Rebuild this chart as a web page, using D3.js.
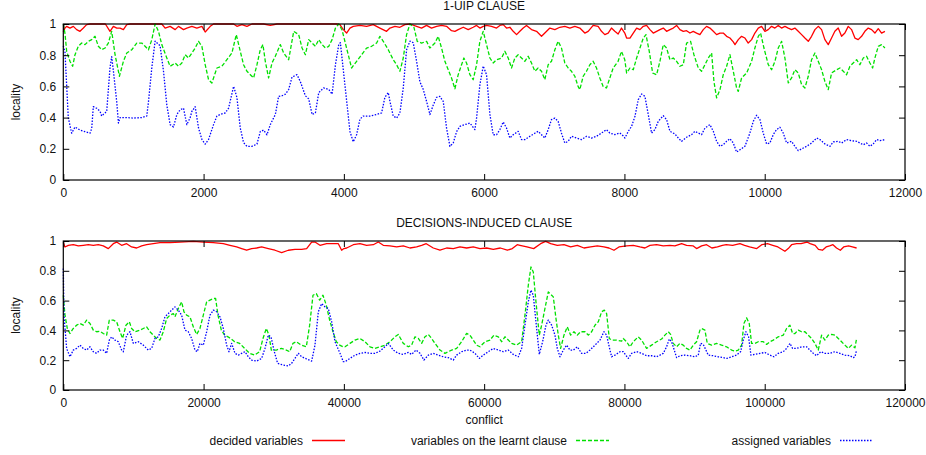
<!DOCTYPE html>
<html>
<head>
<meta charset="utf-8">
<script src="https://cdn.jsdelivr.net/npm/d3@7"></script>
<style>
  html, body { margin: 0; padding: 0; background: #fff; }
  svg { display: block; font-family: "Liberation Sans", Arial, Helvetica, sans-serif; }
</style>
</head>
<body>
<svg id="chart" width="926" height="455"></svg>
<script>
// ---- 1-UIP clause: [conflict, locality] ----
const uipDecided = [[0,.95],[24,.974],[48,.985],[95,.974],[143,.985],[190,.964],[238,.953],[286,.974],[333,.996],[381,1],[600,1],[666,.953],[714,.985],[762,.974],[809,.974],[857,.964],[905,.996],[952,1],[1404,1],[1452,.974],[1523,.985],[1595,.964],[1642,.985],[1714,.964],[1761,.974],[1833,.985],[1904,.974],[1976,.985],[2023,.949],[2095,.985],[2142,1],[2428,1],[2475,.985],[2547,.996],[2618,.985],[2690,1],[2856,1],[2951,.991],[3047,1],[3900,1],[3944,.996],[3992,.964],[4039,.942],[4087,.974],[4134,.985],[4229,.991],[4324,.985],[4419,.996],[4514,.974],[4609,.953],[4657,.974],[4728,.985],[4799,.979],[4870,.996],[4942,1],[5037,.985],[5108,.974],[5179,.991],[5250,.974],[5322,.985],[5393,.991],[5464,.985],[5535,.957],[5583,.953],[5630,.964],[5702,.979],[5773,.964],[5844,.979],[5892,.991],[5939,.974],[5987,.985],[6034,.991],[6105,.985],[6177,.974],[6224,.991],[6272,.996],[6319,.974],[6367,.979],[6414,.953],[6462,.932],[6509,.953],[6557,.974],[6604,.991],[6675,.964],[6747,.953],[6818,.921],[6865,.942],[6937,.974],[7008,.964],[7079,.979],[7150,.985],[7222,.974],[7293,.985],[7364,.974],[7435,.942],[7483,.953],[7554,.991],[7625,.985],[7673,.953],[7720,.932],[7768,.942],[7815,.974],[7863,.953],[7910,.936],[7958,.974],[8005,.942],[8031,.91],[8079,.91],[8126,.942],[8174,.974],[8221,.964],[8269,.985],[8316,.991],[8364,.964],[8411,.942],[8459,.953],[8506,.964],[8554,.974],[8601,.953],[8649,.964],[8696,.974],[8744,.991],[8791,.964],[8839,.953],[8886,.957],[8934,.942],[8981,.953],[9029,.942],[9076,.932],[9124,.964],[9171,.985],[9219,.974],[9267,.953],[9314,.932],[9362,.942],[9409,.942],[9457,.921],[9504,.91],[9552,.885],[9576,.868],[9623,.9],[9670,.921],[9718,.91],[9765,.878],[9813,.9],[9860,.942],[9908,.974],[9955,.985],[10003,.953],[10050,.964],[10098,.985],[10145,.974],[10193,.991],[10240,.974],[10288,.985],[10335,.974],[10383,.964],[10430,.974],[10478,.953],[10526,.932],[10573,.91],[10621,.889],[10668,.921],[10716,.964],[10763,.985],[10811,.964],[10858,.9],[10906,.868],[10953,.91],[11000,.953],[11048,.974],[11096,.921],[11143,.942],[11191,.985],[11238,.964],[11286,.91],[11333,.9],[11381,.921],[11428,.953],[11476,.974],[11524,.964],[11571,.942],[11619,.97],[11666,.942],[11714,.953]];

const uipLearnt = [[0,1],[24,.94],[48,.825],[95,.761],[133,.729],[167,.803],[214,.857],[262,.878],[309,.868],[357,.889],[405,.9],[452,.921],[500,.857],[547,.835],[595,.846],[642,.878],[690,.953],[738,.803],[800,.665],[857,.761],[905,.814],[976,.835],[1047,.878],[1119,.878],[1166,.857],[1214,.835],[1262,.9],[1309,1],[1357,.953],[1404,.868],[1476,.782],[1523,.729],[1595,.75],[1642,.729],[1690,.75],[1738,.803],[1785,.782],[1833,.814],[1880,.846],[1928,.889],[1976,.857],[2023,.739],[2071,.643],[2118,.622],[2190,.718],[2261,.729],[2332,.771],[2404,.814],[2466,.932],[2523,.825],[2570,.739],[2618,.697],[2666,.675],[2713,.654],[2761,.739],[2808,.835],[2846,.868],[2880,.761],[2927,.654],[2975,.75],[3023,.793],[3094,.868],[3142,.814],[3213,.771],[3285,.953],[3356,.932],[3404,.846],[3451,.803],[3499,.9],[3547,.878],[3594,.857],[3642,.9],[3690,.868],[3737,.846],[3785,.857],[3832,.9],[3880,.974],[3928,1],[3975,.96],[4110,.718],[4182,.761],[4253,.803],[4324,.846],[4395,.857],[4467,.878],[4514,.921],[4562,.889],[4633,.835],[4704,.771],[4752,.739],[4799,.697],[4847,.782],[4894,.932],[4942,1],[4999,.979],[5046,.889],[5108,.878],[5179,.889],[5226,.846],[5298,.878],[5345,.921],[5393,.846],[5440,.761],[5488,.707],[5535,.654],[5583,.585],[5630,.675],[5678,.739],[5711,.782],[5749,.75],[5797,.675],[5844,.643],[5892,.739],[5939,.889],[5987,.953],[6034,.868],[6082,.782],[6129,.75],[6177,.771],[6248,.782],[6295,.825],[6343,.782],[6390,.718],[6438,.782],[6485,.803],[6533,.782],[6580,.761],[6628,.793],[6675,.75],[6723,.697],[6770,.718],[6818,.697],[6865,.643],[6913,.739],[6960,.761],[7008,.835],[7055,.889],[7103,.846],[7150,.75],[7198,.718],[7245,.697],[7293,.665],[7339,.6],[7364,.579],[7412,.665],[7459,.697],[7507,.739],[7554,.761],[7602,.718],[7649,.654],[7697,.6],[7744,.59],[7792,.654],[7839,.718],[7910,.761],[7958,.825],[8005,.771],[8031,.686],[8079,.718],[8126,.707],[8174,.782],[8221,.846],[8269,.91],[8307,.932],[8354,.825],[8402,.686],[8459,.675],[8506,.761],[8554,.868],[8601,.846],[8649,.771],[8696,.782],[8744,.761],[8791,.729],[8839,.739],[8886,.878],[8943,.889],[8991,.803],[9053,.718],[9100,.697],[9148,.739],[9195,.782],[9243,.814],[9276,.632],[9314,.526],[9362,.579],[9409,.675],[9457,.729],[9504,.803],[9552,.697],[9599,.59],[9623,.568],[9670,.654],[9742,.686],[9813,.761],[9860,.846],[9908,.921],[9941,.942],[9989,.846],[10051,.739],[10098,.707],[10146,.761],[10193,.846],[10241,.889],[10288,.782],[10336,.622],[10383,.654],[10430,.707],[10478,.686],[10526,.611],[10573,.59],[10621,.665],[10668,.771],[10716,.814],[10763,.761],[10811,.707],[10858,.632],[10906,.579],[10953,.686],[11025,.707],[11072,.718],[11120,.697],[11167,.675],[11215,.729],[11262,.75],[11310,.771],[11357,.739],[11405,.782],[11452,.793],[11500,.75],[11538,.718],[11571,.782],[11619,.857],[11666,.868],[11714,.846]];

const uipAssigned = [[0,.86],[24,.82],[71,.4],[119,.3],[167,.34],[238,.32],[309,.31],[381,.3],[405,.33],[428,.47],[476,.46],[524,.44],[547,.41],[595,.43],[619,.44],[666,.72],[690,.79],[714,.7],[762,.5],[786,.365],[809,.4],[905,.4],[1000,.397],[1119,.4],[1190,.41],[1214,.5],[1262,.72],[1309,.89],[1380,.86],[1428,.7],[1476,.48],[1523,.355],[1571,.34],[1619,.42],[1666,.45],[1714,.46],[1761,.355],[1809,.4],[1833,.44],[1880,.47],[1928,.333],[1976,.26],[2023,.23],[2071,.26],[2142,.355],[2190,.41],[2237,.42],[2309,.43],[2356,.46],[2428,.6],[2475,.53],[2523,.333],[2570,.24],[2618,.216],[2689,.216],[2761,.23],[2808,.31],[2856,.32],[2904,.29],[2951,.355],[3023,.42],[3070,.536],[3118,.54],[3166,.55],[3213,.58],[3261,.66],[3332,.675],[3380,.63],[3451,.54],[3499,.52],[3547,.42],[3594,.43],[3642,.56],[3713,.59],[3785,.58],[3832,.55],[3880,.74],[3928,.87],[3950,.88],[4015,.61],[4087,.31],[4134,.245],[4182,.29],[4229,.39],[4277,.41],[4372,.41],[4467,.42],[4538,.43],[4585,.53],[4633,.56],[4657,.504],[4704,.41],[4752,.397],[4799,.43],[4847,.59],[4894,.835],[4942,.89],[4989,.88],[5037,.76],[5084,.63],[5132,.58],[5179,.504],[5227,.42],[5274,.48],[5322,.53],[5369,.536],[5417,.504],[5464,.333],[5512,.216],[5559,.237],[5607,.31],[5654,.344],[5725,.355],[5797,.365],[5868,.323],[5892,.397],[5939,.61],[5987,.73],[6034,.675],[6082,.42],[6129,.29],[6177,.29],[6224,.323],[6272,.372],[6319,.333],[6367,.269],[6414,.29],[6485,.312],[6533,.259],[6580,.259],[6652,.28],[6723,.3],[6770,.312],[6818,.29],[6865,.269],[6913,.323],[6960,.387],[7008,.397],[7055,.376],[7103,.3],[7150,.237],[7198,.248],[7245,.28],[7316,.269],[7388,.259],[7459,.28],[7530,.269],[7601,.28],[7673,.301],[7744,.323],[7791,.301],[7863,.291],[7934,.301],[7990,.28],[8007,.269],[8055,.312],[8102,.344],[8150,.408],[8197,.515],[8245,.551],[8292,.536],[8340,.419],[8387,.301],[8435,.323],[8482,.376],[8554,.412],[8601,.387],[8649,.312],[8720,.295],[8768,.269],[8815,.248],[8886,.274],[8958,.291],[9005,.312],[9053,.301],[9100,.291],[9148,.333],[9219,.355],[9267,.312],[9314,.248],[9362,.216],[9409,.226],[9457,.248],[9504,.265],[9552,.237],[9599,.179],[9647,.194],[9718,.216],[9789,.301],[9837,.376],[9884,.415],[9932,.387],[9979,.301],[10027,.231],[10074,.237],[10122,.291],[10169,.323],[10217,.338],[10264,.301],[10312,.237],[10383,.248],[10430,.216],[10478,.188],[10550,.205],[10597,.216],[10668,.237],[10740,.269],[10787,.259],[10858,.231],[10930,.216],[10977,.244],[11048,.248],[11096,.237],[11167,.259],[11238,.252],[11310,.248],[11357,.237],[11405,.226],[11452,.237],[11500,.216],[11547,.231],[11595,.259],[11642,.252],[11714,.259]];

// ---- Decisions-induced clause: [conflict, locality] ----
const decDecided = [[0,.99],[238,.96],[713,.971],[1426,.975],[2138,.967],[2851,.971],[3564,.975],[4277,.971],[4990,.975],[5702,.967],[6415,.949],[7128,.982],[7603,.993],[8316,.971],[9029,.982],[9742,.96],[10455,.953],[11167,.967],[11880,.975],[12831,.982],[13782,.989],[15208,.989],[16634,.993],[18535,.998],[19961,.993],[21387,.989],[22812,.982],[23763,.971],[24713,.96],[25427,.949],[26139,.938],[26852,.949],[27565,.953],[28278,.96],[29229,.949],[30179,.938],[31130,.922],[32080,.938],[33031,.944],[33981,.944],[34694,.949],[35407,.993],[35882,.993],[36595,.971],[37546,.982],[38496,.982],[39209,.982],[39684,.938],[40000,.949],[40394,.953],[41345,.975],[42295,.982],[43245,.971],[44196,.975],[44908,.993],[45621,.971],[46572,.967],[47522,.96],[48473,.967],[49423,.953],[50374,.96],[51087,.971],[51746,.982],[52750,.953],[53701,.938],[54651,.953],[55601,.949],[56552,.96],[57502,.953],[58453,.96],[59403,.949],[60354,.953],[61304,.944],[62303,.953],[63301,.938],[64016,.949],[64717,.975],[65105,.971],[66100,.96],[67060,.949],[68049,.982],[68769,.998],[69482,.982],[70429,.971],[71382,.975],[72332,.96],[73283,.971],[74233,.953],[75184,.96],[76134,.967],[77084,.96],[77797,.953],[78508,.938],[79220,.96],[80309,.967],[81259,.971],[82210,.96],[82922,.953],[83635,.971],[84585,.975],[85536,.967],[86486,.971],[87198,.967],[88149,.982],[88862,.971],[89812,.967],[90288,.949],[91001,.967],[91714,.975],[92468,.953],[93258,.96],[93969,.971],[94516,.975],[95429,.971],[96470,.982],[97128,.971],[97846,.96],[98862,.949],[99574,.975],[100400,.982],[101148,.971],[101879,.96],[102880,.931],[103354,.949],[103831,.975],[104544,.982],[105185,.982],[106019,.993],[106477,.982],[107190,.971],[107663,.944],[108229,.938],[108757,.96],[109254,.967],[109727,.975],[110239,.953],[110780,.938],[111257,.96],[111950,.967],[112500,.96],[113100,.953]];

const decLearnt = [[0,.636],[238,.502],[570,.413],[950,.379],[1426,.413],[1901,.435],[2376,.446],[2851,.435],[3326,.469],[3802,.446],[4277,.402],[4752,.391],[5227,.395],[5702,.379],[6178,.368],[6558,.469],[7128,.469],[7603,.458],[8079,.391],[8459,.346],[8935,.435],[9410,.458],[9742,.413],[10217,.391],[10930,.402],[11405,.413],[11880,.424],[12356,.391],[12831,.368],[13306,.346],[13782,.335],[14257,.391],[14732,.48],[15208,.502],[15683,.513],[15920,.491],[16396,.547],[16871,.592],[17204,.525],[17584,.502],[18059,.491],[18535,.424],[19010,.373],[19485,.413],[19961,.502],[20436,.592],[20911,.603],[21387,.614],[21719,.614],[22052,.502],[22527,.402],[23003,.368],[23478,.357],[23953,.342],[24429,.324],[25141,.313],[25854,.279],[26567,.246],[27280,.234],[27993,.257],[28468,.346],[28943,.413],[29323,.368],[29656,.268],[30369,.268],[31082,.279],[31795,.268],[32270,.257],[32745,.313],[33221,.324],[33933,.301],[34646,.29],[35122,.435],[35597,.636],[36072,.647],[36548,.603],[37023,.636],[37498,.569],[37974,.469],[38449,.391],[38924,.324],[39400,.301],[39875,.29],[40157,.29],[40870,.313],[41582,.335],[42295,.346],[43008,.324],[43721,.29],[44433,.279],[45146,.29],[45859,.301],[46572,.324],[47285,.357],[47760,.373],[48473,.313],[49186,.29],[49661,.301],[50136,.357],[50612,.346],[51087,.313],[51562,.357],[52037,.373],[52513,.346],[52988,.313],[53701,.268],[54413,.246],[54889,.257],[55364,.268],[56077,.279],[56790,.324],[57502,.38],[57978,.368],[58453,.335],[58928,.301],[59404,.29],[60116,.324],[60829,.335],[61399,.368],[62017,.357],[62492,.324],[62967,.357],[63443,.335],[63918,.313],[64630,.301],[65343,.324],[65818,.502],[66294,.703],[66674,.826],[67006,.792],[67387,.592],[67862,.368],[68195,.435],[68670,.547],[69145,.658],[69621,.636],[69858,.625],[70238,.48],[70571,.368],[70904,.279],[71379,.368],[71854,.424],[72329,.368],[72804,.391],[73280,.368],[73755,.391],[74373,.391],[74848,.368],[75323,.391],[75799,.435],[76274,.458],[76749,.525],[77129,.536],[77462,.513],[77842,.346],[78175,.335],[78887,.335],[79600,.328],[79833,.346],[80308,.324],[80784,.29],[81259,.324],[81972,.357],[82447,.335],[83160,.279],[83872,.301],[84585,.324],[85298,.342],[85773,.368],[86248,.391],[86581,.373],[86961,.313],[87436,.29],[87912,.313],[88387,.301],[88862,.279],[89338,.268],[89813,.301],[90288,.324],[90763,.402],[91001,.413],[91476,.402],[91809,.313],[92426,.301],[93139,.313],[93852,.301],[94565,.29],[95278,.268],[95753,.261],[96228,.268],[96703,.301],[97036,.446],[97416,.484],[97796,.446],[98129,.313],[98604,.313],[99079,.324],[99792,.324],[100267,.306],[100743,.324],[101218,.335],[101931,.357],[102643,.368],[103119,.413],[103594,.435],[103974,.379],[104306,.379],[104782,.402],[105257,.391],[105732,.391],[106207,.368],[106683,.346],[107158,.313],[107633,.268],[108109,.368],[108584,.335],[109059,.368],[109535,.373],[110010,.368],[110485,.346],[110960,.324],[111436,.301],[111911,.279],[112386,.301],[112862,.283],[113100,.346]];

const decAssigned = [[0,.815],[95,.502],[475,.279],[950,.223],[1426,.268],[1901,.279],[2376,.301],[2851,.279],[3326,.268],[3802,.29],[4277,.257],[4752,.246],[5227,.268],[5702,.268],[6178,.246],[6558,.335],[6891,.357],[7366,.335],[7841,.324],[8316,.268],[8554,.257],[9029,.368],[9505,.391],[9980,.313],[10693,.324],[11405,.301],[12118,.268],[12593,.279],[13068,.346],[13544,.357],[14019,.413],[14494,.491],[14970,.513],[15445,.536],[15920,.558],[16396,.536],[16871,.502],[17346,.402],[17822,.391],[18297,.346],[18772,.268],[19105,.257],[19485,.313],[19961,.301],[20436,.391],[20911,.502],[21387,.536],[21862,.525],[22337,.491],[22812,.413],[23288,.301],[23621,.257],[24001,.313],[24476,.246],[24952,.234],[25427,.246],[25902,.257],[26377,.223],[26853,.201],[27565,.194],[28278,.212],[28753,.279],[29229,.368],[29609,.357],[30084,.257],[30559,.179],[31367,.167],[32080,.161],[32555,.179],[33031,.212],[33506,.246],[33981,.223],[34694,.208],[35407,.194],[35882,.301],[36357,.525],[36832,.58],[37308,.558],[37783,.547],[38258,.458],[38734,.324],[39447,.246],[39922,.19],[40157,.19],[40870,.212],[41582,.234],[42295,.246],[43008,.252],[43721,.246],[44433,.246],[45146,.261],[45859,.29],[46334,.313],[47047,.268],[47760,.246],[48473,.239],[49186,.252],[49661,.239],[50279,.268],[50850,.246],[51420,.201],[52037,.234],[52750,.246],[53463,.234],[54176,.223],[54889,.217],[55601,.201],[56077,.234],[56790,.257],[57502,.268],[57978,.268],[58691,.246],[59307,.212],[59879,.234],[60591,.257],[61304,.279],[62017,.268],[62730,.257],[63443,.268],[64155,.239],[64868,.223],[65343,.279],[65818,.435],[66294,.592],[66674,.67],[67006,.636],[67387,.458],[67862,.239],[68337,.324],[68812,.435],[69145,.469],[69621,.435],[70096,.368],[70428,.279],[70809,.223],[71284,.268],[71759,.301],[72234,.268],[72710,.268],[73280,.29],[73898,.246],[74516,.246],[75085,.268],[75798,.301],[76511,.335],[77081,.391],[77462,.368],[77937,.268],[78175,.223],[78650,.234],[79363,.257],[79833,.257],[80546,.212],[81021,.246],[81734,.257],[82447,.246],[83160,.23],[83872,.23],[84585,.223],[85060,.234],[85536,.246],[86011,.29],[86391,.342],[86724,.324],[87104,.268],[87436,.217],[87912,.23],[88624,.234],[89337,.23],[90050,.223],[90526,.234],[90858,.313],[91238,.306],[91618,.268],[91951,.234],[92664,.23],[93377,.223],[94089,.217],[94565,.212],[95278,.223],[95991,.234],[96561,.257],[96941,.335],[97320,.391],[97701,.357],[98034,.234],[98604,.239],[99317,.246],[100029,.252],[100743,.234],[101313,.223],[101931,.246],[102643,.257],[103119,.279],[103594,.313],[103974,.279],[104544,.279],[105257,.29],[105970,.29],[106445,.268],[106920,.246],[107395,.23],[107991,.257],[108584,.246],[109297,.246],[110010,.257],[110723,.246],[111436,.234],[112149,.23],[112624,.217],[112862,.223],[113100,.268]];

// ---- axis ticks, titles, legend ----
const yTicks = [0, 0.2, 0.4, 0.6, 0.8, 1];
const uipXTicks = [0, 2000, 4000, 6000, 8000, 10000, 12000];
const decXTicks = [0, 20000, 40000, 60000, 80000, 100000, 120000];
const panelTitles = ["1-UIP CLAUSE", "DECISIONS-INDUCED CLAUSE"];
const seriesNames = ["decided variables", "variables on the learnt clause", "assigned variables"];
const yLabel = "locality";
const xLabel = "conflict";

const styles = [
  { color: "#ff0000", dash: null },
  { color: "#00e000", dash: "4,2" },
  { color: "#0000ff", dash: "1.5,1.5" }
];

const FONT = "12px";
const svg = d3.select("#chart");
const left = 63.3, right = 905;

function panel(cfg) {
  const x = d3.scaleLinear().domain(cfg.xDomain).range([left, right]);
  const y = d3.scaleLinear().domain([0, 1]).range([cfg.bottom, cfg.top]);
  const g = svg.append("g");
  const fmt = d3.format("");

  // series
  const line = d3.line().x(d => x(d[0])).y(d => y(d[1]));
  cfg.series.forEach((s, i) => {
    g.append("path").datum(s)
      .attr("fill", "none")
      .attr("stroke", styles[i].color)
      .attr("stroke-width", 1.3)
      .attr("stroke-dasharray", styles[i].dash)
      .attr("stroke-linejoin", "round")
      .attr("d", line);
  });

  const tickLen = 6;
  // ticks point inward on all four sides
  const bAxis = d3.axisBottom(x).tickValues(cfg.xTicks).tickSize(-tickLen).tickPadding(8.5).tickFormat(fmt);
  const gb = g.append("g").attr("transform", `translate(0,${cfg.bottom})`).call(bAxis);
  const tAxis = d3.axisTop(x).tickValues(cfg.xTicks).tickSize(-tickLen).tickFormat("");
  const gt = g.append("g").attr("transform", `translate(0,${cfg.top})`).call(tAxis);
  const lAxis = d3.axisLeft(y).tickValues(yTicks).tickSize(-tickLen).tickPadding(7).tickFormat(fmt);
  const gl = g.append("g").attr("transform", `translate(${left},0)`).call(lAxis);
  const rAxis = d3.axisRight(y).tickValues(yTicks).tickSize(-tickLen).tickFormat("");
  const gr = g.append("g").attr("transform", `translate(${right},0)`).call(rAxis);
  [gb, gt, gl, gr].forEach(a => {
    a.select(".domain").remove();
    a.selectAll("line").attr("stroke", "#000").attr("stroke-width", 1);
    a.selectAll("text").attr("fill", "#111").style("font-size", FONT)
      .style("font-family", '"Liberation Sans", Arial, sans-serif');
  });

  // frame
  g.append("rect")
    .attr("x", left).attr("y", cfg.top)
    .attr("width", right - left).attr("height", cfg.bottom - cfg.top)
    .attr("fill", "none").attr("stroke", "#000").attr("stroke-width", 1.2);

  // title
  svg.append("text").attr("x", (left + right) / 2).attr("y", cfg.top - 14)
    .attr("text-anchor", "middle").attr("fill", "#111").style("font-size", FONT)
    .text(cfg.title);

  // y label
  const cy = (cfg.top + cfg.bottom) / 2;
  svg.append("text").attr("transform", `translate(19.5,${cy}) rotate(-90)`)
    .attr("text-anchor", "middle").attr("fill", "#111").style("font-size", FONT)
    .text(yLabel);
}

panel({ xDomain: [0, 12000], xTicks: uipXTicks, top: 24, bottom: 180,
        series: [uipDecided, uipLearnt, uipAssigned], title: panelTitles[0] });
panel({ xDomain: [0, 120000], xTicks: decXTicks, top: 241, bottom: 390,
        series: [decDecided, decLearnt, decAssigned], title: panelTitles[1] });

// x axis label
svg.append("text").attr("x", (left + right) / 2).attr("y", 423.5)
  .attr("text-anchor", "middle").attr("fill", "#111").style("font-size", FONT)
  .text(xLabel);

// legend
const legendEnds = [303, 567, 831];
seriesNames.forEach((name, i) => {
  const tx = legendEnds[i];
  svg.append("text").attr("x", tx).attr("y", 445)
    .attr("text-anchor", "end").attr("fill", "#111").style("font-size", FONT)
    .text(name);
  svg.append("line")
    .attr("x1", tx + 9).attr("x2", tx + 42).attr("y1", 440.5).attr("y2", 440.5)
    .attr("stroke", styles[i].color).attr("stroke-width", 1.3)
    .attr("stroke-dasharray", styles[i].dash);
});
</script>
</body>
</html>
